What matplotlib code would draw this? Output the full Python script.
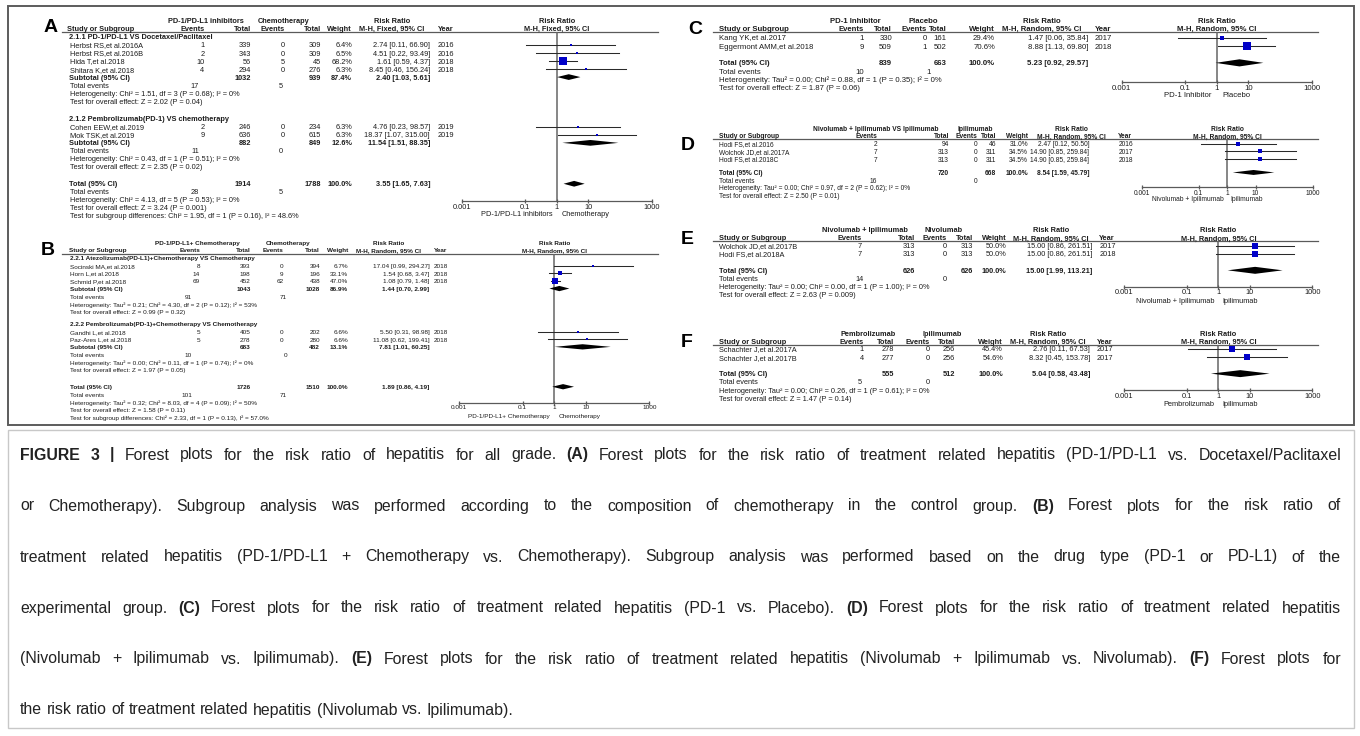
import matplotlib.pyplot as plt
from matplotlib.patches import Rectangle
from matplotlib.ticker import NullLocator

plt.rcParams['font.family'] = ['Liberation Sans', 'DejaVu Sans']

W, H = 1360, 736
SY = 0.775          # vertical squeeze of the panel block
BLUE = '#0000c8'
INK = '#1c1c1c'
RULE = '#5a5a5a'

TICKS = [0.001, 0.1, 1, 10, 1000]
TICK_LABELS = ['0.001', '0.1', '1', '10', '1000']

# --- A: PD-1/PD-L1 inhibitors vs chemotherapy (fixed effect, two subgroups)
A_GROUPS = ["2.1.1 PD-1/PD-L1 VS Docetaxel/Paclitaxel",
            "2.1.2 Pembrolizumab(PD-1) VS chemotherapy"]
A_STUDY = ["Herbst RS,et al.2016A", "Herbst RS,et al.2016B", "Hida T,et al.2018",
           "Shitara K,et al.2018", "Cohen EEW,et al.2019", "Mok TSK,et al.2019"]
A_GROUP_OF = [0, 0, 0, 0, 1, 1]
A_EXP_EV = [1, 2, 10, 4, 2, 9]
A_EXP_N = [339, 343, 56, 294, 246, 636]
A_CTL_EV = [0, 0, 5, 0, 0, 0]
A_CTL_N = [309, 309, 45, 276, 234, 615]
A_WEIGHT = [6.4, 6.5, 68.2, 6.3, 6.3, 6.3]
A_RR = [2.74, 4.51, 1.61, 8.45, 4.76, 18.37]
A_LO = [0.11, 0.22, 0.59, 0.46, 0.23, 1.07]
A_HI = [66.90, 93.49, 4.37, 156.24, 98.57, 315.00]
A_YEAR = [2016, 2016, 2018, 2018, 2019, 2019]
# summaries: one per subgroup, then the overall total
A_SUM_EXP_N = [1032, 882, 1914]
A_SUM_CTL_N = [939, 849, 1788]
A_SUM_EXP_EV = [17, 11, 28]
A_SUM_CTL_EV = [5, 0, 5]
A_SUM_WEIGHT = [87.4, 12.6, 100.0]
A_SUM_RR = [2.40, 11.54, 3.55]
A_SUM_LO = [1.03, 1.51, 1.65]
A_SUM_HI = [5.61, 88.35, 7.63]
A_HET = ["Heterogeneity: Chi² = 1.51, df = 3 (P = 0.68); I² = 0%",
         "Heterogeneity: Chi² = 0.43, df = 1 (P = 0.51); I² = 0%",
         "Heterogeneity: Chi² = 4.13, df = 5 (P = 0.53); I² = 0%"]
A_Z = ["Test for overall effect: Z = 2.02 (P = 0.04)",
       "Test for overall effect: Z = 2.35 (P = 0.02)",
       "Test for overall effect: Z = 3.24 (P = 0.001)"]
A_SUBDIFF = "Test for subgroup differences: Chi² = 1.95, df = 1 (P = 0.16), I² = 48.6%"

# --- B: PD-1/PD-L1 + chemotherapy vs chemotherapy
B_GROUPS = ["2.2.1 Atezolizumab(PD-L1)+Chemotherapy VS Chemotherapy",
            "2.2.2 Pembrolizumab(PD-1)+Chemotherapy VS Chemotherapy"]
B_STUDY = ["Socinski MA,et al.2018", "Horn L,et al.2018", "Schmid P,et al.2018",
           "Gandhi L,et al.2018", "Paz-Ares L,et al.2018"]
B_GROUP_OF = [0, 0, 0, 1, 1]
B_EXP_EV = [8, 14, 69, 5, 5]
B_EXP_N = [393, 198, 452, 405, 278]
B_CTL_EV = [0, 9, 62, 0, 0]
B_CTL_N = [394, 196, 438, 202, 280]
B_WEIGHT = [6.7, 33.1, 47.0, 6.6, 6.6]
B_RR = [17.04, 1.54, 1.08, 5.50, 11.08]
B_LO = [0.99, 0.68, 0.79, 0.31, 0.62]
B_HI = [294.27, 3.47, 1.48, 98.98, 199.41]
B_YEAR = [2018, 2018, 2018, 2018, 2018]
B_SUM_EXP_N = [1043, 683, 1726]
B_SUM_CTL_N = [1028, 482, 1510]
B_SUM_EXP_EV = [91, 10, 101]
B_SUM_CTL_EV = [71, 0, 71]
B_SUM_WEIGHT = [86.9, 13.1, 100.0]
B_SUM_RR = [1.44, 7.81, 1.89]
B_SUM_LO = [0.70, 1.01, 0.86]
B_SUM_HI = [2.99, 60.25, 4.19]
B_HET = ["Heterogeneity: Tau² = 0.21; Chi² = 4.30, df = 2 (P = 0.12); I² = 53%",
         "Heterogeneity: Tau² = 0.00; Chi² = 0.11, df = 1 (P = 0.74); I² = 0%",
         "Heterogeneity: Tau² = 0.32; Chi² = 8.03, df = 4 (P = 0.09); I² = 50%"]
B_Z = ["Test for overall effect: Z = 0.99 (P = 0.32)",
       "Test for overall effect: Z = 1.97 (P = 0.05)",
       "Test for overall effect: Z = 1.58 (P = 0.11)"]
B_SUBDIFF = "Test for subgroup differences: Chi² = 2.33, df = 1 (P = 0.13), I² = 57.0%"

# --- C: PD-1 inhibitor vs placebo
C_STUDY = ["Kang YK,et al.2017", "Eggermont AMM,et al.2018"]
C_EXP_EV = [1, 9]
C_EXP_N = [330, 509]
C_CTL_EV = [0, 1]
C_CTL_N = [161, 502]
C_WEIGHT = [29.4, 70.6]
C_RR = [1.47, 8.88]
C_LO = [0.06, 1.13]
C_HI = [35.84, 69.80]
C_YEAR = [2017, 2018]
C_SUM_EXP_N = [839]
C_SUM_CTL_N = [663]
C_SUM_EXP_EV = [10]
C_SUM_CTL_EV = [1]
C_SUM_WEIGHT = [100.0]
C_SUM_RR = [5.23]
C_SUM_LO = [0.92]
C_SUM_HI = [29.57]
C_HET = ["Heterogeneity: Tau² = 0.00; Chi² = 0.88, df = 1 (P = 0.35); I² = 0%"]
C_Z = ["Test for overall effect: Z = 1.87 (P = 0.06)"]

# --- D: nivolumab + ipilimumab vs ipilimumab
D_STUDY = ["Hodi FS,et al.2016", "Wolchok JD,et al.2017A", "Hodi FS,et al.2018C"]
D_EXP_EV = [2, 7, 7]
D_EXP_N = [94, 313, 313]
D_CTL_EV = [0, 0, 0]
D_CTL_N = [46, 311, 311]
D_WEIGHT = [31.0, 34.5, 34.5]
D_RR = [2.47, 14.90, 14.90]
D_LO = [0.12, 0.85, 0.85]
D_HI = [50.50, 259.84, 259.84]
D_YEAR = [2016, 2017, 2018]
D_SUM_EXP_N = [720]
D_SUM_CTL_N = [668]
D_SUM_EXP_EV = [16]
D_SUM_CTL_EV = [0]
D_SUM_WEIGHT = [100.0]
D_SUM_RR = [8.54]
D_SUM_LO = [1.59]
D_SUM_HI = [45.79]
D_HET = ["Heterogeneity: Tau² = 0.00; Chi² = 0.97, df = 2 (P = 0.62); I² = 0%"]
D_Z = ["Test for overall effect: Z = 2.50 (P = 0.01)"]

# --- E: nivolumab + ipilimumab vs nivolumab
E_STUDY = ["Wolchok JD,et al.2017B", "Hodi FS,et al.2018A"]
E_EXP_EV = [7, 7]
E_EXP_N = [313, 313]
E_CTL_EV = [0, 0]
E_CTL_N = [313, 313]
E_WEIGHT = [50.0, 50.0]
E_RR = [15.00, 15.00]
E_LO = [0.86, 0.86]
E_HI = [261.51, 261.51]
E_YEAR = [2017, 2018]
E_SUM_EXP_N = [626]
E_SUM_CTL_N = [626]
E_SUM_EXP_EV = [14]
E_SUM_CTL_EV = [0]
E_SUM_WEIGHT = [100.0]
E_SUM_RR = [15.00]
E_SUM_LO = [1.99]
E_SUM_HI = [113.21]
E_HET = ["Heterogeneity: Tau² = 0.00; Chi² = 0.00, df = 1 (P = 1.00); I² = 0%"]
E_Z = ["Test for overall effect: Z = 2.63 (P = 0.009)"]

# --- F: pembrolizumab vs ipilimumab
F_STUDY = ["Schachter J,et al.2017A", "Schachter J,et al.2017B"]
F_EXP_EV = [1, 4]
F_EXP_N = [278, 277]
F_CTL_EV = [0, 0]
F_CTL_N = [256, 256]
F_WEIGHT = [45.4, 54.6]
F_RR = [2.76, 8.32]
F_LO = [0.11, 0.45]
F_HI = [67.53, 153.78]
F_YEAR = [2017, 2017]
F_SUM_EXP_N = [555]
F_SUM_CTL_N = [512]
F_SUM_EXP_EV = [5]
F_SUM_CTL_EV = [0]
F_SUM_WEIGHT = [100.0]
F_SUM_RR = [5.04]
F_SUM_LO = [0.58]
F_SUM_HI = [43.48]
F_HET = ["Heterogeneity: Tau² = 0.00; Chi² = 0.26, df = 1 (P = 0.61); I² = 0%"]
F_Z = ["Test for overall effect: Z = 1.47 (P = 0.14)"]

CAPTION = [
    [("FIGURE 3 |", True), (" Forest plots for the risk ratio of hepatitis for all grade.", False),
     ("(A)", True), ("Forest plots for the risk ratio of treatment related hepatitis (PD-1/PD-L1 vs. Docetaxel/Paclitaxel", False)],
    [("or Chemotherapy). Subgroup analysis was performed according to the composition of chemotherapy in the control group.", False),
     ("(B)", True), ("Forest plots for the risk ratio of", False)],
    [("treatment related hepatitis (PD-1/PD-L1 + Chemotherapy vs. Chemotherapy). Subgroup analysis was performed based on the drug type (PD-1 or PD-L1) of the", False)],
    [("experimental group.", False), ("(C)", True),
     ("Forest plots for the risk ratio of treatment related hepatitis (PD-1 vs. Placebo).", False),
     ("(D)", True), ("Forest plots for the risk ratio of treatment related hepatitis", False)],
    [("(Nivolumab + Ipilimumab vs. Ipilimumab).", False), ("(E)", True),
     ("Forest plots for the risk ratio of treatment related hepatitis (Nivolumab + Ipilimumab vs. Nivolumab).", False),
     ("(F)", True), ("Forest plots for", False)],
    [("the risk ratio of treatment related hepatitis (Nivolumab vs. Ipilimumab).", False)],
]


def panel(tag, head, method, favours, study, exp_ev, exp_n, ctl_ev, ctl_n, weight, rr, lo, hi, year,
          s_exp_n, s_ctl_n, s_exp_ev, s_ctl_ev, s_weight, s_rr, s_lo, s_hi, het, z,
          groups=(), group_of=None, subdiff=None):
    return dict(tag=tag, head=head, method=method, favours=favours, study=study, exp_ev=exp_ev,
                exp_n=exp_n, ctl_ev=ctl_ev, ctl_n=ctl_n, weight=weight, rr=rr, lo=lo, hi=hi,
                year=year, s_exp_n=s_exp_n, s_ctl_n=s_ctl_n, s_exp_ev=s_exp_ev, s_ctl_ev=s_ctl_ev,
                s_weight=s_weight, s_rr=s_rr, s_lo=s_lo, s_hi=s_hi, het=het, z=z,
                groups=groups, group_of=group_of, subdiff=subdiff)


PANEL_A = panel('A', ("PD-1/PD-L1 inhibitors", "Chemotherapy"), "M-H, Fixed, 95% CI",
                ("PD-1/PD-L1 inhibitors", "Chemotherapy"), A_STUDY, A_EXP_EV, A_EXP_N, A_CTL_EV,
                A_CTL_N, A_WEIGHT, A_RR, A_LO, A_HI, A_YEAR, A_SUM_EXP_N, A_SUM_CTL_N,
                A_SUM_EXP_EV, A_SUM_CTL_EV, A_SUM_WEIGHT, A_SUM_RR, A_SUM_LO, A_SUM_HI, A_HET,
                A_Z, A_GROUPS, A_GROUP_OF, A_SUBDIFF)
PANEL_B = panel('B', ("PD-1/PD-L1+ Chemotherapy", "Chemotherapy"), "M-H, Random, 95% CI",
                ("PD-1/PD-L1+ Chemotherapy", "Chemotherapy"), B_STUDY, B_EXP_EV, B_EXP_N,
                B_CTL_EV, B_CTL_N, B_WEIGHT, B_RR, B_LO, B_HI, B_YEAR, B_SUM_EXP_N, B_SUM_CTL_N,
                B_SUM_EXP_EV, B_SUM_CTL_EV, B_SUM_WEIGHT, B_SUM_RR, B_SUM_LO, B_SUM_HI, B_HET,
                B_Z, B_GROUPS, B_GROUP_OF, B_SUBDIFF)
PANEL_C = panel('C', ("PD-1 Inhibitor", "Placebo"), "M-H, Random, 95% CI",
                ("PD-1 Inhibitor", "Placebo"), C_STUDY, C_EXP_EV, C_EXP_N, C_CTL_EV, C_CTL_N,
                C_WEIGHT, C_RR, C_LO, C_HI, C_YEAR, C_SUM_EXP_N, C_SUM_CTL_N, C_SUM_EXP_EV,
                C_SUM_CTL_EV, C_SUM_WEIGHT, C_SUM_RR, C_SUM_LO, C_SUM_HI, C_HET, C_Z)
PANEL_D = panel('D', ("Nivolumab + Ipilimumab VS Ipilimumab", "Ipilimumab"), "M-H, Random, 95% CI",
                ("Nivolumab + Ipilimumab", "Ipilimumab"), D_STUDY, D_EXP_EV, D_EXP_N, D_CTL_EV,
                D_CTL_N, D_WEIGHT, D_RR, D_LO, D_HI, D_YEAR, D_SUM_EXP_N, D_SUM_CTL_N,
                D_SUM_EXP_EV, D_SUM_CTL_EV, D_SUM_WEIGHT, D_SUM_RR, D_SUM_LO, D_SUM_HI, D_HET, D_Z)
PANEL_E = panel('E', ("Nivolumab + Ipilimumab", "Nivolumab"), "M-H, Random, 95% CI",
                ("Nivolumab + Ipilimumab", "Ipilimumab"), E_STUDY, E_EXP_EV, E_EXP_N, E_CTL_EV,
                E_CTL_N, E_WEIGHT, E_RR, E_LO, E_HI, E_YEAR, E_SUM_EXP_N, E_SUM_CTL_N,
                E_SUM_EXP_EV, E_SUM_CTL_EV, E_SUM_WEIGHT, E_SUM_RR, E_SUM_LO, E_SUM_HI, E_HET, E_Z)
PANEL_F = panel('F', ("Pembrolizumab", "Ipilimumab"), "M-H, Random, 95% CI",
                ("Pembrolizumab", "Ipilimumab"), F_STUDY, F_EXP_EV, F_EXP_N, F_CTL_EV, F_CTL_N,
                F_WEIGHT, F_RR, F_LO, F_HI, F_YEAR, F_SUM_EXP_N, F_SUM_CTL_N, F_SUM_EXP_EV,
                F_SUM_CTL_EV, F_SUM_WEIGHT, F_SUM_RR, F_SUM_LO, F_SUM_HI, F_HET, F_Z)

# pixel layout of each RevMan block (y values before the SY squeeze)
LAY_A = dict(letter=(51, 35.5), fs=5.3, h1=27.5, h2=38, line=41.7, left=62, right=658,
             hdr_name=67, name=69.5, ev_e=204.5, n_e=250.7, ev_c=285, n_c=321, w=352, ci=430,
             year=438, rr_hdr=392, grp_e=206, grp_c=284, te_e=199, te_c=282.5, y0=49,
             step=10.35, gap=2.2, gap_total=2.1, one=556.7, dec=31.7, axis_off=21, lab_off=18,
             fav_gap=4.5, dia=3.7)
LAY_B = dict(letter=(47.5, 323), fs=4.6, h1=314, h2=323.5, line=327.7, left=62, right=658,
             hdr_name=69, name=70, ev_e=200, n_e=250.5, ev_c=283.3, n_c=320, w=348.3, ci=429.5,
             year=434, rr_hdr=388.3, grp_e=197, grp_c=288, te_e=192, te_c=287, y0=334,
             step=9.9, gap=1.6, gap_total=2.2, one=554.3, dec=31.7, axis_off=19.5, lab_off=17,
             fav_gap=4.5, dia=3.4)
LAY_C = dict(letter=(695, 38.3), fs=5.6, h1=27.3, h2=37.7, line=41.7, left=713, right=1318,
             hdr_name=719.3, name=719.3, ev_e=864, n_e=892, ev_c=926.7, n_c=946.7, w=995,
             ci=1088.3, year=1095, rr_hdr=1041.7, grp_e=855, grp_c=923.3, te_e=864, te_c=931,
             y0=50, step=10.8, gap=2.0, gap_total=2.0, one=1216.7, dec=31.7, axis_off=23.5,
             lab_off=17.3, fav_gap=5.5, dia=4.6)
LAY_D = dict(letter=(687.5, 187.5), fs=4.8, h1=166.7, h2=176.7, line=179.3, left=713, right=1318,
             hdr_name=719.3, name=719.3, ev_e=877, n_e=949, ev_c=977.5, n_c=996, w=1028,
             ci=1089.3, year=1118.3, rr_hdr=1071.5, grp_e=876, grp_c=975.7, te_e=877,
             te_c=977.5, y0=186.7, step=9.9, gap=1.75, gap_total=1.75, one=1227, dec=28.5,
             axis_off=17.7, lab_off=15.5, fav_gap=3.5, dia=3.2)
LAY_E = dict(letter=(687, 308.5), fs=5.3, h1=297.7, h2=308.3, line=311.5, left=713, right=1318,
             hdr_name=719.3, name=719.3, ev_e=862, n_e=915.5, ev_c=947, n_c=973.3, w=1006.5,
             ci=1092.7, year=1099.3, rr_hdr=1051, grp_e=864.7, grp_c=944, te_e=864, te_c=946.7,
             y0=318.3, step=10.6, gap=2.0, gap_total=2.0, one=1218.3, dec=31.3, axis_off=20,
             lab_off=18.4, fav_gap=4.3, dia=4.5)
LAY_F = dict(letter=(687, 441.8), fs=5.3, h1=431, h2=441.6, line=444.8, left=713, right=1318,
             hdr_name=719.3, name=719.3, ev_e=864, n_e=894, ev_c=930, n_c=955, w=1003,
             ci=1090, year=1097, rr_hdr=1048, grp_e=868, grp_c=942, te_e=862, te_c=930,
             y0=451.6, step=10.6, gap=2.0, gap_total=2.0, one=1218.3, dec=31.3, axis_off=20,
             lab_off=18.4, fav_gap=4.3, dia=4.5)

fig = plt.figure(figsize=(W / 100, H / 100), dpi=100)
base = fig.add_axes([0, 0, 1, 1])
base.set_xlim(0, W)
base.set_ylim(H, 0)
base.axis('off')


def txt(x, y, s, fs, ha='left', bold=False):
    return base.text(x, y, s, fontsize=fs, ha=ha, va='center', color=INK,
                     fontweight='bold' if bold else 'normal')


def draw_panel(d, L):
    fs, step = L['fs'], L['step'] * SY
    one, dec = L['one'], L['dec']
    h1, h2, top = L['h1'] * SY, L['h2'] * SY, L['line'] * SY

    base.text(L['letter'][0], L['letter'][1] * SY, d['tag'], fontsize=14, fontweight='bold',
              ha='center', va='center', color='black')

    # two header rows with the rule below them
    txt(L['grp_e'], h1, d['head'][0], fs, 'center', True)
    txt(L['grp_c'], h1, d['head'][1], fs, 'center', True)
    txt(L['rr_hdr'], h1, 'Risk Ratio', fs, 'center', True)
    txt(one, h1, 'Risk Ratio', fs, 'center', True)
    txt(L['hdr_name'], h2, 'Study or Subgroup', fs, 'left', True)
    txt(L['ev_e'], h2, 'Events', fs, 'right', True)
    txt(L['n_e'], h2, 'Total', fs, 'right', True)
    txt(L['ev_c'], h2, 'Events', fs, 'right', True)
    txt(L['n_c'], h2, 'Total', fs, 'right', True)
    txt(L['w'], h2, 'Weight', fs, 'right', True)
    txt(L['rr_hdr'], h2, d['method'], fs, 'center', True)
    txt(L['year'], h2, 'Year', fs, 'left', True)
    txt(one, h2, d['method'], fs, 'center', True)
    base.plot([L['left'], L['right']], [top, top], color=RULE, lw=0.9)

    # row sequence
    rows = []
    y = L['y0'] * SY
    groups = d['groups']
    n = len(d['study'])
    if groups:
        for g, title in enumerate(groups):
            rows.append(('title', g, y))
            y += step
            for i in range(n):
                if d['group_of'][i] == g:
                    rows.append(('study', i, y))
                    y += step
            for kind in ('sum', 'events', 'het', 'z'):
                rows.append((kind, g, y))
                y += step
            y += step * ((L['gap_total'] if g == len(groups) - 1 else L['gap']) - 1)
    else:
        for i in range(n):
            rows.append(('study', i, y))
            y += step
        y += step * (L['gap_total'] - 1)
    t = len(d['s_rr']) - 1
    total_y = y
    for kind in ('sum', 'events', 'het', 'z'):
        rows.append((kind, t, y))
        y += step
    if d['subdiff']:
        rows.append(('subdiff', t, y))

    # forest plot on a log axis whose baseline is the scale bar
    axis_y = total_y + L['axis_off'] * SY
    ax = fig.add_axes([(one - 3 * dec) / W, 1 - axis_y / H, 6 * dec / W, (axis_y - top) / H])
    ax.set_xscale('log')
    ax.set_xlim(1e-3, 1e3)
    ax.set_ylim(axis_y, top)
    ax.patch.set_visible(False)
    for s in ('top', 'left', 'right'):
        ax.spines[s].set_visible(False)
    ax.spines['bottom'].set_color(RULE)
    ax.spines['bottom'].set_linewidth(0.9)
    ax.set_xticks(TICKS)
    ax.set_xticklabels(TICK_LABELS)
    ax.xaxis.set_minor_locator(NullLocator())
    ax.tick_params(axis='x', direction='inout', length=3.2, width=0.9, pad=0.2, color=RULE,
                   labelcolor=INK, labelsize=fs)
    ax.set_yticks([])
    ax.axvline(1, color='#666666', lw=1.1, zorder=1)

    nx = L['name']
    h = L['dia'] * SY
    for kind, k, y in rows:
        ym = y - 1.0
        if kind == 'title':
            txt(nx - 0.5, y, groups[k], fs, bold=True)
        elif kind == 'study':
            txt(nx, y, d['study'][k], fs)
            txt(L['ev_e'], y, str(d['exp_ev'][k]), fs, 'right')
            txt(L['n_e'], y, str(d['exp_n'][k]), fs, 'right')
            txt(L['ev_c'], y, str(d['ctl_ev'][k]), fs, 'right')
            txt(L['n_c'], y, str(d['ctl_n'][k]), fs, 'right')
            txt(L['w'], y, f"{d['weight'][k]:.1f}%", fs, 'right')
            rr, lo, hi = d['rr'][k], d['lo'][k], d['hi'][k]
            txt(L['ci'], y, f"{rr:.2f} [{lo:.2f}, {hi:.2f}]", fs, 'right')
            txt(L['year'], y, str(d['year'][k]), fs)
            ax.plot([lo, hi], [ym, ym], color='#2a2a2a', lw=0.75, zorder=2, clip_on=False)
            side = max(2.2, 0.12 * d['weight'][k])
            ax.plot([rr], [ym], 's', ms=side * 0.72, color=BLUE, mew=0, zorder=3, clip_on=False)
        elif kind == 'sum':
            label = 'Total (95% CI)' if k == t else 'Subtotal (95% CI)'
            txt(nx - 0.5, y, label, fs, bold=True)
            txt(L['n_e'], y, str(d['s_exp_n'][k]), fs, 'right', True)
            txt(L['n_c'], y, str(d['s_ctl_n'][k]), fs, 'right', True)
            txt(L['w'], y, f"{d['s_weight'][k]:.1f}%", fs, 'right', True)
            rr, lo, hi = d['s_rr'][k], d['s_lo'][k], d['s_hi'][k]
            txt(L['ci'], y, f"{rr:.2f} [{lo:.2f}, {hi:.2f}]", fs, 'right', True)
            ax.fill([lo, rr, hi, rr], [ym, ym - h, ym, ym + h], color='black', lw=0,
                    zorder=3, clip_on=False)
        elif kind == 'events':
            txt(nx, y, 'Total events', fs)
            txt(L['te_e'], y, str(d['s_exp_ev'][k]), fs, 'right')
            txt(L['te_c'], y, str(d['s_ctl_ev'][k]), fs, 'right')
        elif kind == 'het':
            txt(nx, y, d['het'][k], fs)
        elif kind == 'z':
            txt(nx, y, d['z'][k], fs)
        elif kind == 'subdiff':
            txt(nx, y, d['subdiff'], fs)

    ly = axis_y + L['lab_off'] * SY
    txt(one - L['fav_gap'], ly, d['favours'][0], fs, 'right')
    txt(one + L['fav_gap'], ly, d['favours'][1], fs, 'left')


for d, L in ((PANEL_A, LAY_A), (PANEL_B, LAY_B), (PANEL_C, LAY_C),
             (PANEL_D, LAY_D), (PANEL_E, LAY_E), (PANEL_F, LAY_F)):
    draw_panel(d, L)

# frame round the panels and the caption box below
base.add_patch(Rectangle((8, 8 * SY), 1346, 540 * SY, fill=False, ec='#5c5c5c', lw=1.4))
base.add_patch(Rectangle((8, 430), 1346, 298, fill=False, ec='#c8c8c8', lw=1.0))

CAP_FS = 11.4
CAP_L, CAP_R = 20, 1341
renderer = fig.canvas.get_renderer()


def caption_line(y, runs, justify):
    words = [(w, b) for s, b in runs for w in s.split()]
    arts = []
    for w, b in words:
        a = base.text(0, y, w, fontsize=CAP_FS, fontweight='bold' if b else 'normal',
                      ha='left', va='center', color='#222222')
        arts.append((a, a.get_window_extent(renderer).width))
    used = sum(wd for _, wd in arts)
    space = CAP_FS * 100 / 72 * 0.278
    gap = (CAP_R - CAP_L - used) / (len(arts) - 1) if justify else space
    x = CAP_L
    for a, wd in arts:
        a.set_x(x)
        x += wd + gap


for i, runs in enumerate(CAPTION):
    caption_line(455 + i * 51, runs, i < len(CAPTION) - 1)

fig.savefig('out.png', dpi=100)
